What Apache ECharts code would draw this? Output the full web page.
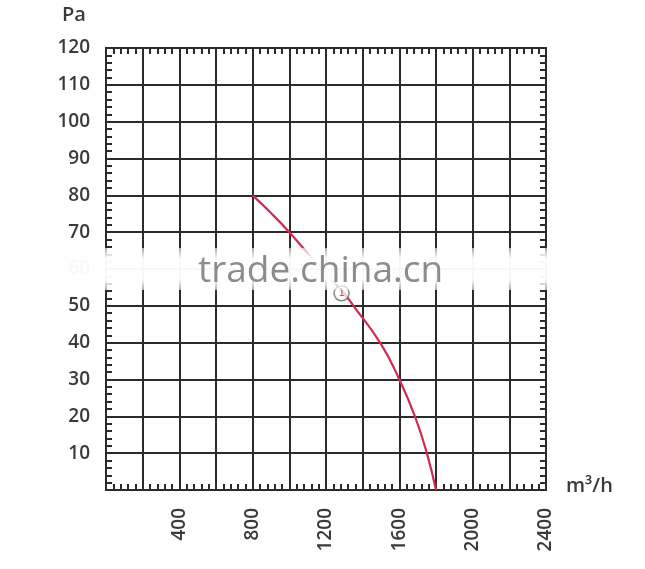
<!DOCTYPE html>
<html>
<head>
<meta charset="utf-8">
<script src="https://cdn.jsdelivr.net/npm/echarts@6/dist/echarts.min.js"></script>
<style>
html,body{margin:0;padding:0;background:#fff;}
#chart{width:645px;height:569px;}
</style>
</head>
<body>
<div id="chart"></div>
<script>
// Data
const flowValues = [800, 900, 1000, 1100, 1200, 1300, 1350, 1500, 1600, 1685, 1750, 1800];
const pressureValues = [80, 75.2, 70, 64.3, 58.8, 53.3, 50, 39.6, 30, 20, 10, 0];
const markerPoint = [1285, 53.4];
const markerLabel = '1';
const xTickLabels = ['400', '800', '1200', '1600', '2000', '2400'];
const yTickLabels = ['10', '20', '30', '40', '50', '60', '70', '80', '90', '100', '110', '120'];
const yUnit = 'Pa';
const xUnit = 'm³/h';
const watermark = 'trade.china.cn';

const curve = flowValues.map((v, i) => [v, pressureValues[i]]);

const chart = echarts.init(document.getElementById('chart'));
const dark = '#2b2b2b';
const labelFont = { fontFamily: 'Open Sans', fontSize: 19, fontWeight: 600, color: '#3a3a3a' };

function xLabelFmt(v) { const s = String(v); return xTickLabels.includes(s) ? s : ''; }
function yLabelFmt(v) { const s = String(v); return yTickLabels.includes(s) ? s : ''; }

function axisCommon(extra) {
  return Object.assign({
    axisLine: { show: true, onZero: false, lineStyle: { color: dark, width: 2 } },
    axisTick: { show: true, inside: true, length: 6, lineStyle: { color: dark, width: 2 } },
    minorTick: { show: true, splitNumber: 5, length: 6, lineStyle: { color: dark, width: 2 } }
  }, extra);
}

const option = {
  animation: false,
  backgroundColor: '#fff',
  grid: { left: 106, right: 99, top: 48, bottom: 79, containLabel: false },
  xAxis: [
    axisCommon({ type: 'value', min: 0, max: 2400, interval: 200, position: 'bottom',
      splitLine: { show: true, lineStyle: { color: dark, width: 2 } },
      axisLabel: Object.assign({ rotate: 90, margin: 18, formatter: xLabelFmt }, labelFont) }),
    axisCommon({ type: 'value', min: 0, max: 2400, interval: 200, position: 'top',
      splitLine: { show: false }, axisLabel: { show: false } })
  ],
  yAxis: [
    axisCommon({ type: 'value', min: 0, max: 120, interval: 10, position: 'left',
      splitLine: { show: true, lineStyle: { color: dark, width: 2 } },
      axisLabel: Object.assign({ margin: 16, formatter: yLabelFmt }, labelFont) }),
    axisCommon({ type: 'value', min: 0, max: 120, interval: 10, position: 'right',
      splitLine: { show: false }, axisLabel: { show: false } })
  ],
  series: [{
    type: 'line', data: curve, smooth: 0.5, showSymbol: false, symbol: 'none',
    lineStyle: { color: '#d12b50', width: 2.2 }, z: 5
  }, {
    type: 'scatter', data: [markerPoint], symbol: 'circle', symbolSize: 15,
    itemStyle: { color: 'rgba(255,255,255,0.9)', borderColor: '#6a6a6a', borderWidth: 1.6 },
    label: { show: true, position: 'inside', formatter: markerLabel, fontSize: 10, color: '#555', fontFamily: 'DejaVu Sans' },
    z: 6
  }],
  graphic: [
    { type: 'text', left: 62, top: 5, z: 200,
      style: { text: yUnit, fontFamily: 'Open Sans', fontSize: 20, fontWeight: 600, fill: '#3a3a3a' } },
    { type: 'text', left: 566, top: 476, z: 200,
      style: { text: xUnit, fontFamily: 'Open Sans', fontSize: 20, fontWeight: 600, fill: '#3a3a3a' } },
    { type: 'rect', left: 0, top: 248, z: 100,
      shape: { width: 645, height: 42 },
      style: { fill: new echarts.graphic.LinearGradient(0, 0, 0, 1, [
        { offset: 0, color: 'rgba(255,255,255,0.6)' },
        { offset: 0.25, color: 'rgba(255,255,255,0.97)' },
        { offset: 0.75, color: 'rgba(255,255,255,0.97)' },
        { offset: 1, color: 'rgba(255,255,255,0.6)' }]) } },
    { type: 'text', left: 198, top: 253, z: 101,
      style: { text: watermark, fontFamily: 'Open Sans', fontSize: 37, fontWeight: 400, fill: '#8c8c8c' } }
  ]
};
chart.setOption(option);
</script>
</body>
</html>
